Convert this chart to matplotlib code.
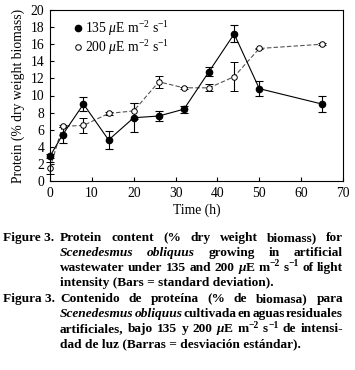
import matplotlib
matplotlib.use("Agg")
import matplotlib.pyplot as plt
from matplotlib.lines import Line2D
from matplotlib.font_manager import FontProperties

plt.rcParams["font.family"] = ["Liberation Serif", "DejaVu Serif"]
plt.rcParams["mathtext.fontset"] = "custom"
plt.rcParams["mathtext.rm"] = "Liberation Serif"
plt.rcParams["mathtext.it"] = "Liberation Serif:italic"
plt.rcParams["mathtext.bf"] = "Liberation Serif:bold"

# ---------------------------------------------------------------------
# data
# ---------------------------------------------------------------------
time_h = [0, 3, 8, 14, 20, 26, 32, 38, 44, 50, 65]
prot_135 = [2.9, 5.4, 9.0, 4.8, 7.4, 7.6, 8.4, 12.8, 17.2, 10.8, 9.0]
sd_135 = [0.2, 0.9, 0.8, 1.1, 1.7, 0.6, 0.4, 0.5, 1.0, 0.9, 0.9]
prot_200 = [1.5, 6.4, 6.5, 7.9, 8.2, 11.6, 10.9, 10.9, 12.2, 15.5, 16.0]
sd_200 = [0.7, 0.1, 0.9, 0.15, 0.9, 0.7, 0.1, 0.4, 1.7, 0.1, 0.1]

xticks = [0, 10, 20, 30, 40, 50, 60, 70]
yticks = [0, 2, 4, 6, 8, 10, 12, 14, 16, 18, 20]

W, H, DPI = 355, 370, 100
fig = plt.figure(figsize=(W / DPI, H / DPI), dpi=DPI)
ax = fig.add_axes([50 / W, 1 - 181 / H, (343 - 50) / W, (181 - 10) / H])

eb200 = ax.errorbar(time_h, prot_200, yerr=sd_200, fmt="o--", color="#555555", ecolor="black",
                    mfc="white", mec="black", ms=4, lw=0.8, elinewidth=0.8, capsize=3,
                    capthick=0.8, dashes=(4, 2), mew=0.7)
eb135 = ax.errorbar(time_h, prot_135, yerr=sd_135, fmt="o-", color="black", ms=4.5, lw=0.8,
                    elinewidth=0.8, capsize=3, capthick=0.8)
for eb in (eb200, eb135):
    for art in eb.get_children():
        art.set_clip_on(False)

ax.set_xlim(0, 70)
ax.set_ylim(0, 20)
ax.set_xticks(xticks)
ax.set_yticks(yticks)
ax.tick_params(direction="in", length=3, width=0.8, labelsize=9.8)
ax.tick_params(axis="x", pad=4)
ax.tick_params(axis="y", pad=4)
for s in ax.spines.values():
    s.set_linewidth(0.8)
ax.set_xlabel("Time (h)", fontsize=9.8, labelpad=3)
ax.set_ylabel("Protein (% dry weight biomass)", fontsize=9.8, labelpad=4)

handles = [Line2D([], [], marker="o", ls="none", color="black", ms=4.5),
           Line2D([], [], marker="o", ls="none", mfc="white", mec="black", ms=4, mew=0.7)]
labels = [r"135 $\mu$E m$^{-2}$ s$^{-1}$", r"200 $\mu$E m$^{-2}$ s$^{-1}$"]
ax.legend(handles, labels, loc="upper left", bbox_to_anchor=(0.05, 1.005), frameon=False,
          fontsize=9.8, handlelength=0.6, handletextpad=0.2, labelspacing=0.02,
          borderpad=0.2)

# ---------------------------------------------------------------------
# caption, justified by hand
# ---------------------------------------------------------------------
FS = 9.6
renderer = fig.canvas.get_renderer()
PROPS = {
    "b": FontProperties(family="Liberation Serif", weight="bold", size=FS),
    "bi": FontProperties(family="Liberation Serif", weight="bold", style="italic", size=FS),
    "sup": FontProperties(family="Liberation Serif", weight="bold", size=FS * 0.72),
}


def seg_width(text, style):
    w, _, _ = renderer.get_text_width_height_descent(text, PROPS[style], ismath=False)
    return w


def place_line(words, x0, x1, y, justify=True):
    if not justify:
        # plain left-aligned line: one text object
        s = " ".join("".join(t for t, _ in word) for word in words)
        fig.text(x0 / W, 1 - y / H, s, fontproperties=PROPS[words[0][0][1]],
                 ha="left", va="baseline")
        return
    widths = [[seg_width(s, st) for s, st in word] for word in words]
    total = sum(sum(ws) for ws in widths)
    space = (x1 - x0 - total) / (len(words) - 1)
    x = x0
    for word, ws in zip(words, widths):
        for (s, st), w in zip(word, ws):
            dy = 4.5 if st == "sup" else 0
            fig.text(x / W, 1 - (y - dy) / H, s, fontproperties=PROPS[st],
                     ha="left", va="baseline")
            x += w
        x += space


def words_of(text, style="b"):
    return [[(w, style)] for w in text.split()]


MU_E = [("μ", "bi"), ("E", "b")]
M2 = [("m", "b"), ("−2", "sup")]
S1 = [("s", "b"), ("−1", "sup")]

X0, XI, X1 = 3, 60, 343
ys = [241, 256, 271, 286, 302, 317, 332, 347]

place_line([[("Figure 3.", "b")]], X0, X0, ys[0], justify=False)
place_line(words_of("Protein content (% dry weight biomass) for"), XI, X1, ys[0])
place_line(words_of("Scenedesmus obliquus", "bi") + words_of("growing in artificial"), XI, X1, ys[1])
place_line(words_of("wastewater under 135 and 200") + [MU_E, M2, S1] + words_of("of light"),
           XI, X1, ys[2])
place_line(words_of("intensity (Bars = standard deviation)."), XI, X1, ys[3], justify=False)

place_line([[("Figura 3.", "b")]], X0, X0, ys[4], justify=False)
place_line(words_of("Contenido de proteína (% de biomasa) para"), XI, X1, ys[4])
place_line(words_of("Scenedesmus obliquus", "bi") + words_of("cultivada en aguas residuales"),
           XI, X1, ys[5])
place_line(words_of("artificiales, bajo 135 y 200") + [MU_E, M2, S1] + words_of("de intensi-"),
           XI, X1, ys[6])
place_line(words_of("dad de luz (Barras = desviación estándar)."), XI, X1, ys[7], justify=False)

fig.savefig("out.png", dpi=DPI)
